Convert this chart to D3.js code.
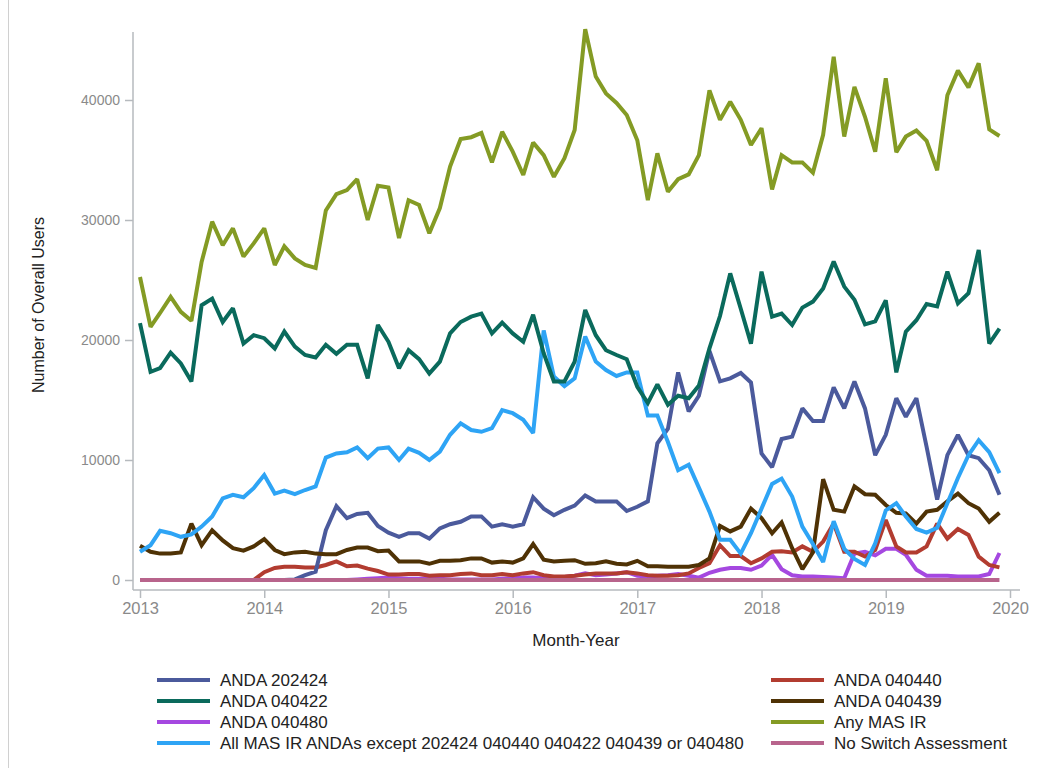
<!DOCTYPE html>
<html><head><meta charset="utf-8">
<script src="https://cdn.jsdelivr.net/npm/d3@7"></script>
<style>
body{margin:0;background:#fff;}
svg{display:block;font-family:"Liberation Sans",Arial,sans-serif;}
</style></head>
<body><svg id="c" width="1037" height="768"></svg>
<script>
const startYear = 2013, nMonths = 84;
const yTicks = [0, 10000, 20000, 30000, 40000];
const xTickYears = [2013, 2014, 2015, 2016, 2017, 2018, 2019, 2020];

const anda202424 = [0,0,0,0,0,0,0,0,0,0,0,0,
  0,0,0,50,400,700,4150,6150,5150,5500,5600,4500,
  3950,3600,3900,3900,3450,4300,4650,4850,5300,5300,4450,4650,
  4450,4650,6900,5950,5400,5850,6200,7050,6550,6550,6550,5750,
  6100,6550,11400,12600,17300,14050,15350,19100,16550,16800,17250,16450,
  10550,9400,11750,11950,14300,13250,13250,16050,14300,16550,14300,10400,
  12100,15150,13600,15150,11100,6700,10400,12100,10400,10150,9150,7100];
const anda040440 = [0,0,0,0,0,0,0,0,0,0,0,0,
  650,1000,1100,1100,1050,1050,1250,1550,1150,1200,950,750,
  450,450,500,500,350,400,400,500,550,400,400,500,
  400,550,650,400,300,300,350,450,550,550,550,650,
  550,400,350,350,400,550,1000,1400,2900,2000,2000,1400,
  1800,2350,2400,2300,2800,2350,3200,4700,2350,2350,1950,2500,
  5000,2800,2300,2300,2800,4700,3450,4250,3750,1950,1250,1050];
const anda040422 = [21400,17350,17650,18950,18050,16550,22900,23450,21500,22650,19700,20400,
  20150,19300,20700,19450,18750,18550,19600,18850,19600,19600,16800,21250,
  19850,17650,19150,18400,17200,18200,20550,21500,21950,22200,20550,21450,
  20550,19850,22100,18900,16550,16550,18200,22500,20400,19150,18750,18400,
  16100,14750,16300,14600,15350,15150,16200,19300,22000,25550,22600,19700,
  25700,21950,22200,21250,22700,23200,24300,26550,24450,23350,21300,21550,
  23300,17300,20700,21650,23000,22800,25700,23050,23900,27500,19700,20950];
const anda040439 = [2850,2350,2200,2200,2300,4700,2900,4150,3300,2650,2450,2800,
  3400,2500,2150,2300,2350,2200,2150,2150,2500,2700,2700,2400,
  2450,1550,1550,1550,1350,1600,1600,1650,1800,1800,1450,1550,
  1450,1800,3000,1700,1550,1600,1650,1350,1400,1550,1350,1300,
  1600,1150,1150,1100,1100,1100,1250,1800,4500,4050,4450,5950,
  5150,3900,4800,2650,900,2300,8400,5850,5700,7800,7150,7100,
  6250,5600,5550,4700,5700,5850,6550,7200,6400,5950,4850,5600];
const anda040480 = [0,0,0,0,0,0,0,0,0,0,0,0,
  0,0,0,0,0,0,0,0,0,50,100,150,
  200,150,100,100,150,100,50,50,50,50,50,100,
  150,200,200,150,150,250,350,550,400,450,550,650,
  350,300,350,400,500,350,200,600,850,1000,1000,850,
  1200,2100,900,400,300,300,250,200,150,2200,2350,2050,
  2600,2600,2100,850,350,350,350,300,300,300,500,2250];
const anyMasIr = [25250,21100,22250,23600,22350,21600,26500,29860,27900,29300,26950,28050,
  29300,26250,27800,26800,26250,26000,30800,32150,32500,33400,30000,32850,
  32700,28500,31650,31250,28900,31000,34450,36750,36900,37250,34800,37350,
  35700,33750,36450,35400,33600,35150,37500,45900,41950,40550,39750,38750,
  36650,31650,35550,32350,33400,33800,35400,40800,38350,39850,38350,36250,
  37650,32550,35400,34800,34800,33950,37100,43600,36950,41100,38600,35700,
  41800,35650,36950,37450,36600,34150,40400,42450,41050,43050,37550,37000];
const allExcept = [2350,2900,4100,3900,3600,3800,4450,5300,6800,7100,6900,7650,
  8750,7200,7450,7150,7500,7800,10200,10550,10650,11050,10150,10950,
  11050,10000,10950,10600,10000,10700,12100,13050,12500,12350,12650,14150,
  13900,13350,12250,20800,16950,16150,16800,20300,18200,17500,17000,17300,
  17300,13700,13700,11500,9150,9600,7700,5700,3350,3350,2200,3900,
  5950,8000,8450,6950,4450,3000,1500,4900,2600,1750,1250,3050,
  5800,6400,5300,4250,3950,4350,6400,8500,10400,11650,10650,8900];
const noSwitch = new Array(nMonths).fill(0);

const seriesNames = ["ANDA 202424","ANDA 040440","ANDA 040422","ANDA 040439","ANDA 040480","Any MAS IR",
  "All MAS IR ANDAs except 202424 040440 040422 040439 or 040480","No Switch Assessment"];
const seriesValues = [anda202424, anda040440, anda040422, anda040439, anda040480, anyMasIr, allExcept, noSwitch];
const seriesColors = ["#4b5a9c","#b23c30","#0a6a5c","#4f3205","#a548e0","#849b24","#2ea4f5","#b8648c"];
// drawing order (bottom to top)
const drawOrder = [4,1,0,7,3,6,2,5];

const svg = d3.select("#c");
const dates = d3.range(nMonths).map(i => new Date(startYear, i, 1));
const x = d3.scaleTime().domain([new Date(2013,0,1), new Date(2020,0,1)]).range([140, 1010]);
const y = d3.scaleLinear().domain([0, 40000]).range([580, 100]);

// page left rule
svg.append("line").attr("x1",8.5).attr("x2",8.5).attr("y1",0).attr("y2",768).attr("stroke","#d0d0d0");

const axisColor = "#b6babe", labelColor = "#8a8a8a";
// y axis
const gy = svg.append("g").attr("transform","translate(133,0)")
  .call(d3.axisLeft(y).tickValues(yTicks).tickFormat(d3.format("d")).tickSize(8).tickPadding(5));
gy.select(".domain").remove();
gy.append("line").attr("x1",0).attr("x2",0).attr("y1",y(46000)+4).attr("y2",y(-833)).attr("stroke",axisColor).attr("stroke-width",1.5);
gy.selectAll(".tick line").attr("stroke",axisColor).attr("stroke-width",1.5);
gy.selectAll(".tick text").attr("fill",labelColor).style("font-size","14px").style("font-family","Liberation Sans, Arial, sans-serif");

// x axis
const gx = svg.append("g").attr("transform","translate(0,590)")
  .call(d3.axisBottom(x).tickValues(xTickYears.map(yv => new Date(yv,0,1))).tickFormat(d3.timeFormat("%Y")).tickSize(8).tickPadding(4));
gx.select(".domain").remove();
gx.append("line").attr("x1",133).attr("x2",x(new Date(2020,0,1))+10).attr("y1",0).attr("y2",0).attr("stroke",axisColor).attr("stroke-width",1.5);
gx.selectAll(".tick line").attr("stroke",axisColor).attr("stroke-width",1.5);
gx.selectAll(".tick text").attr("fill",labelColor).style("font-size","16.5px").style("font-family","Liberation Sans, Arial, sans-serif");

// axis titles
svg.append("text").attr("x",576).attr("y",646).attr("text-anchor","middle")
  .style("font-size","17px").attr("fill","#222").text("Month-Year");
svg.append("text").attr("transform","translate(44,305) rotate(-90)").attr("text-anchor","middle")
  .style("font-size","16px").attr("fill","#222").text("Number of Overall Users");

// lines
const line = d3.line().x((d,i) => x(dates[i])).y(d => y(d));
const gl = svg.append("g");
drawOrder.forEach(k => {
  gl.append("path").datum(seriesValues[k]).attr("d", line)
    .attr("fill","none").attr("stroke",seriesColors[k])
    .attr("stroke-width", 4).attr("stroke-linejoin","miter").attr("stroke-miterlimit",2);
});

// legend
const legendRows = [680, 701, 722, 743];
const legendCols = [157, 771];
const lg = svg.append("g");
seriesNames.forEach((name, k) => {
  const col = k % 2, row = Math.floor(k / 2);
  const cx = legendCols[col], cy = legendRows[row];
  lg.append("line").attr("x1",cx).attr("x2",cx+53).attr("y1",cy).attr("y2",cy)
    .attr("stroke",seriesColors[k]).attr("stroke-width",4);
  lg.append("text").attr("x",cx+63).attr("y",cy+6).style("font-size","17px").attr("fill","#222").text(name);
});
</script>
</body></html>
